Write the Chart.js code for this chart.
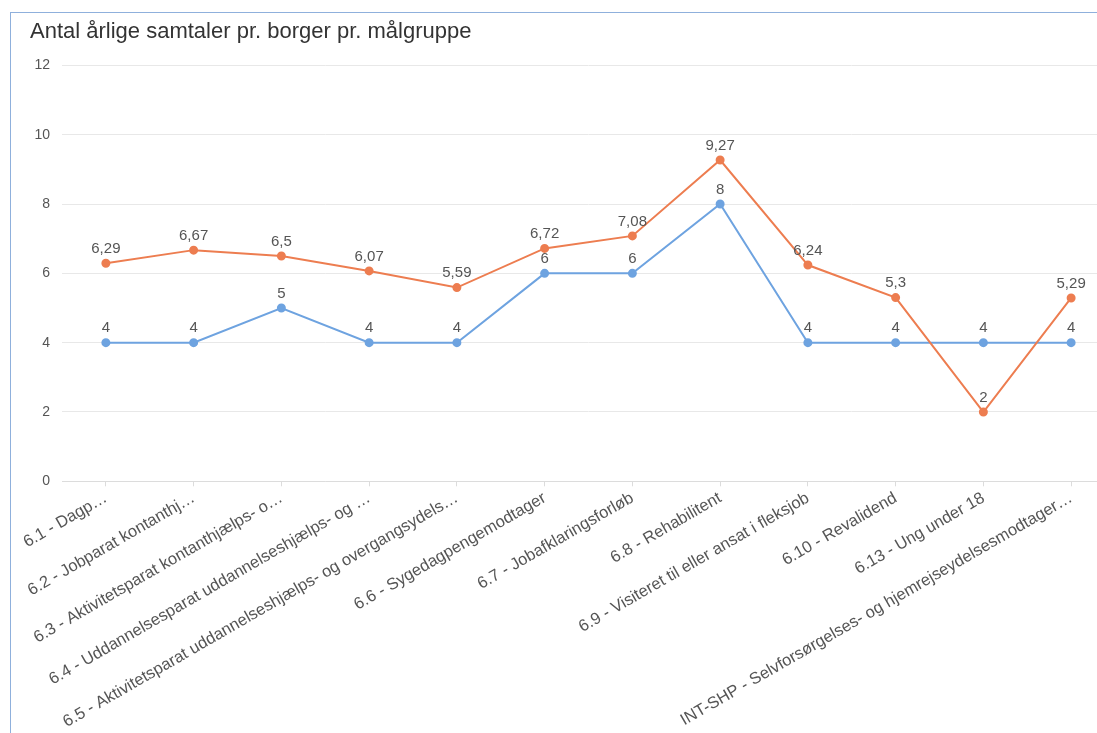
<!DOCTYPE html>
<html>
<head>
<meta charset="utf-8">
<script src="https://cdn.jsdelivr.net/npm/chart.js@4"></script>
<style>
  body { margin: 0; background: #fff; overflow: hidden; }
  #box { position: absolute; left: 10px; top: 12px; width: 1130px; height: 730px;
         border-left: 1px solid #8fb0dc; border-top: 1px solid #8fb0dc; }
  #wrap { position: absolute; left: 0; top: 0; width: 1110px; height: 721px; }
</style>
</head>
<body>
<div id="box"><div id="wrap"><canvas id="myChart"></canvas></div></div>
<script>
// categories and values
var labels = [
  "6.1 - Dagp…",
  "6.2 - Jobparat kontanthj…",
  "6.3 - Aktivitetsparat kontanthjælps- o…",
  "6.4 - Uddannelsesparat uddannelseshjælps- og …",
  "6.5 - Aktivitetsparat uddannelseshjælps- og overgangsydels…",
  "6.6 - Sygedagpengemodtager",
  "6.7 - Jobafklaringsforløb",
  "6.8 - Rehabilitent",
  "6.9 - Visiteret til eller ansat i fleksjob",
  "6.10 - Revalidend",
  "6.13 - Ung under 18",
  "INT-SHP - Selvforsørgelses- og hjemrejseydelsesmodtager…"
];
var blueValues = [4, 4, 5, 4, 4, 6, 6, 8, 4, 4, 4, 4];
var orangeValues = [6.29, 6.67, 6.5, 6.07, 5.59, 6.72, 7.08, 9.27, 6.24, 5.3, 2, 5.29];
var yTicks = [0, 2, 4, 6, 8, 10, 12];

var fontFam = '"Liberation Sans", Arial, sans-serif';

// draw the value above each point
var valueLabels = {
  id: 'valueLabels',
  afterDatasetsDraw: function(chart) {
    var ctx = chart.ctx;
    ctx.save();
    ctx.font = '15px ' + fontFam;
    ctx.fillStyle = '#555';
    ctx.textAlign = 'center';
    ctx.textBaseline = 'bottom';
    chart.data.datasets.forEach(function(ds, i) {
      chart.getDatasetMeta(i).data.forEach(function(pt, j) {
        var txt = String(ds.data[j]).replace('.', ',');
        ctx.fillText(txt, pt.x, pt.y - 7);
      });
    });
    ctx.restore();
  }
};

var ctx = document.getElementById('myChart').getContext('2d');
var chart = new Chart(ctx, {
  type: 'line',
  data: {
    labels: labels,
    datasets: [{
      label: 'Orange',
      data: orangeValues,
      borderColor: 'rgb(237,125,80)',
      backgroundColor: 'rgb(237,125,80)',
      borderWidth: 2,
      pointRadius: 3.5,
      tension: 0
    }, {
      label: 'Blå',
      data: blueValues,
      borderColor: 'rgb(110,163,224)',
      backgroundColor: 'rgb(110,163,224)',
      borderWidth: 2,
      pointRadius: 3.5,
      tension: 0
    }]
  },
  options: {
    responsive: true,
    maintainAspectRatio: false,
    animation: false,
    layout: { padding: { left: 19, top: 2, right: 0, bottom: 0 } },
    plugins: {
      legend: { display: false },
      tooltip: { enabled: false },
      title: {
        display: true,
        text: 'Antal årlige samtaler pr. borger pr. målgruppe',
        align: 'start',
        color: '#333',
        font: { size: 22, family: fontFam, weight: 'normal' },
        padding: { top: 4, bottom: 20 }
      }
    },
    scales: {
      x: {
        offset: true,
        grid: { display: true, drawOnChartArea: false, color: '#dcdcdc', tickLength: 5 },
        border: { color: '#dcdcdc' },
        ticks: {
          color: '#555',
          minRotation: 30,
          maxRotation: 30,
          autoSkip: false,
          padding: 2,
          font: { size: 16.5, family: fontFam }
        }
      },
      y: {
        min: 0,
        max: 12,
        afterBuildTicks: function(axis) {
          axis.ticks = yTicks.map(function(v) { return { value: v }; });
        },
        afterFit: function(axis) { axis.width = 32; },
        grid: { color: '#e8e8e8', drawTicks: false },
        border: { display: false },
        ticks: {
          color: '#555',
          padding: 12,
          font: { size: 14, family: fontFam }
        }
      }
    }
  },
  plugins: [valueLabels]
});
</script>
</body>
</html>
